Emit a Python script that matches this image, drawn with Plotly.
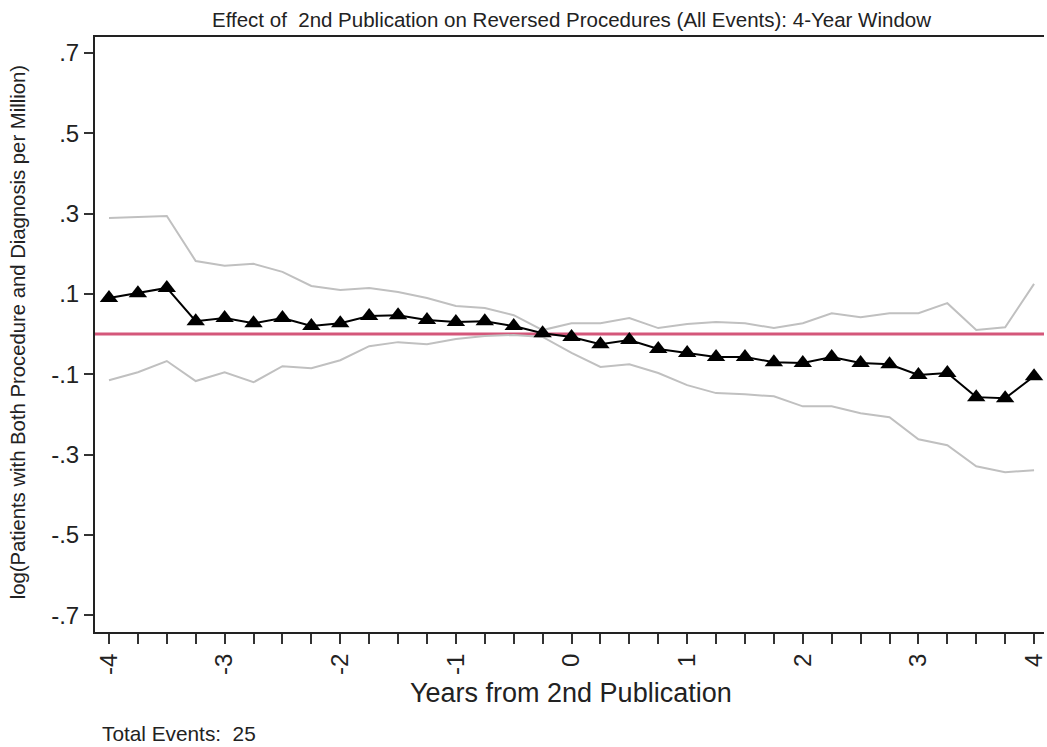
import plotly.graph_objects as go

# Event time (years relative to the 2nd publication), quarterly steps
years = [-4, -3.75, -3.5, -3.25, -3, -2.75, -2.5, -2.25, -2, -1.75, -1.5, -1.25,
         -1, -0.75, -0.5, -0.25, 0, 0.25, 0.5, 0.75, 1, 1.25, 1.5, 1.75,
         2, 2.25, 2.5, 2.75, 3, 3.25, 3.5, 3.75, 4]

# Point estimates
estimate = [0.090, 0.102, 0.115, 0.032, 0.040, 0.027, 0.040, 0.020, 0.027, 0.045, 0.047, 0.035,
            0.030, 0.032, 0.020, 0.002, -0.007, -0.025, -0.015, -0.037, -0.047, -0.057, -0.057, -0.070,
            -0.072, -0.057, -0.072, -0.075, -0.102, -0.097, -0.157, -0.160, -0.105]

# Upper and lower confidence bounds
upper = [0.289, 0.292, 0.294, 0.182, 0.170, 0.175, 0.155, 0.120, 0.110, 0.115, 0.105, 0.090,
         0.070, 0.065, 0.047, 0.010, 0.027, 0.027, 0.040, 0.015, 0.025, 0.030, 0.027, 0.015,
         0.027, 0.052, 0.042, 0.052, 0.052, 0.077, 0.010, 0.017, 0.125]
lower = [-0.115, -0.095, -0.067, -0.117, -0.095, -0.120, -0.080, -0.085, -0.065, -0.030, -0.020, -0.025,
         -0.012, -0.005, -0.002, -0.007, -0.047, -0.082, -0.075, -0.097, -0.127, -0.147, -0.150, -0.155,
         -0.180, -0.180, -0.197, -0.207, -0.262, -0.277, -0.329, -0.344, -0.339]

y_ticks = [0.7, 0.5, 0.3, 0.1, -0.1, -0.3, -0.5, -0.7]
y_tick_labels = [".7", ".5", ".3", ".1", "-.1", "-.3", "-.5", "-.7"]
x_ticks = [-4, -3, -2, -1, 0, 1, 2, 3, 4]
total_events = 25

FONT = "Liberation Sans, Arial, Helvetica, sans-serif"
TEXT = "#222222"

fig = go.Figure()

fig.add_trace(go.Scatter(x=years, y=upper, mode="lines",
                         line=dict(color="#c0c0c0", width=2), showlegend=False))
fig.add_trace(go.Scatter(x=years, y=lower, mode="lines",
                         line=dict(color="#c0c0c0", width=2), showlegend=False))

# Reference line at zero
fig.add_hline(y=0, line=dict(color="#d4577a", width=3), layer="below")

fig.add_trace(go.Scatter(x=years, y=estimate, mode="lines+markers",
                         line=dict(color="black", width=2),
                         marker=dict(symbol="triangle-up", size=16, color="black"),
                         showlegend=False))

fig.update_layout(
    width=1047, height=747,
    paper_bgcolor="white", plot_bgcolor="white",
    margin=dict(l=95, r=0, t=37, b=115),
    font=dict(family=FONT, color=TEXT),
    showlegend=False,
    xaxis=dict(range=[-4.121, 4.086], tickvals=x_ticks, ticktext=[str(v) for v in x_ticks],
               tickangle=-90, ticks="outside", ticklen=10, tickwidth=1.5, tickcolor="#333333",
               ticklabeloverflow="allow",
               minor=dict(dtick=0.25, tick0=0, ticks="outside", ticklen=10, tickwidth=1.5,
                          tickcolor="#333333", showgrid=False),
               showgrid=False, zeroline=False, showline=True, linecolor="#222222", linewidth=2,
               mirror=True, tickfont=dict(size=24, color=TEXT)),
    yaxis=dict(range=[-0.742, 0.740], tickvals=y_ticks, ticktext=y_tick_labels,
               ticks="outside", ticklen=9, tickwidth=1.5, tickcolor="#333333",
               showgrid=False, zeroline=False, showline=True, linecolor="#222222", linewidth=2,
               mirror=False, tickfont=dict(size=24, color=TEXT)),
)

# Title, axis titles and note placed in paper coordinates
fig.add_annotation(text="Effect of  2nd Publication on Reversed Procedures (All Events): 4-Year Window",
                   xref="paper", yref="paper", x=0.5016, y=1.030, xanchor="center", yanchor="middle",
                   showarrow=False, font=dict(size=20.5, color=TEXT))
fig.add_annotation(text="Years from 2nd Publication", xref="paper", yref="paper",
                   x=0.5016, y=-0.1025, xanchor="center", yanchor="middle",
                   showarrow=False, font=dict(size=27, color=TEXT))
fig.add_annotation(text="log(Patients with Both Procedure and Diagnosis per Million)",
                   xref="paper", yref="paper", x=-0.0809, y=0.504, xanchor="center", yanchor="middle",
                   textangle=-90, showarrow=False, font=dict(size=20.3, color=TEXT))
fig.add_annotation(text=f"Total Events:  {total_events}", xref="paper", yref="paper",
                   x=0.0053, y=-0.170, xanchor="left", yanchor="middle",
                   showarrow=False, font=dict(size=20.8, color=TEXT))

fig.write_html("out.html")
